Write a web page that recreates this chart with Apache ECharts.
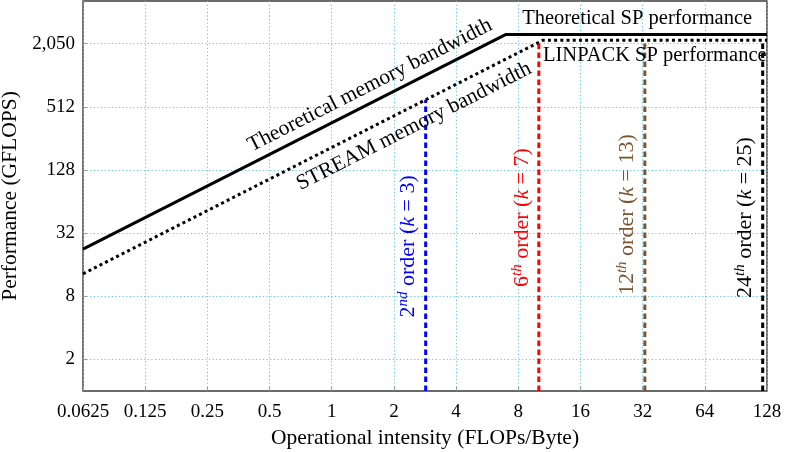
<!DOCTYPE html>
<html>
<head>
<meta charset="utf-8">
<script src="https://cdn.jsdelivr.net/npm/echarts@6/dist/echarts.min.js"></script>
<style>
  html, body { margin: 0; padding: 0; background: #fff; }
  #chart { width: 788px; height: 452px; }
</style>
</head>
<body>
<div id="chart"></div>
<script>
// 坐标轴刻度
const xTicks = [0.0625, 0.125, 0.25, 0.5, 1, 2, 4, 8, 16, 32, 64, 128];
const yTicks = [2, 8, 32, 128, 512, 2048];
const yTickLabels = ['2', '8', '32', '128', '512', '2,050'];

// 理论 roofline (带宽 + 峰值)
const theoreticalX = [0.0625, 6.94, 128];
const theoreticalY = [22.5, 2500, 2500];
// STREAM / LINPACK roofline
const streamX = [0.0625, 10.5, 128];
const streamY = [13.1, 2200, 2200];

// 各阶差分格式的运算强度及其顶端性能
const orderNames = ['2nd', '6th', '12th', '24th'];
const orderK = [3, 7, 13, 25];
const orderX = [2.85, 10.06, 32.8, 122];
const orderTop = [598, 2113, 2200, 2200];
const orderColors = ['#0000ff', '#ff0000', '#7a5530', '#000000'];

const serif = 'Liberation Serif';
const slope = Math.atan(31.57 / 62.18) * 180 / Math.PI;

function pairs(xs, ys) {
  return xs.map((x, i) => [x, ys[i]]);
}

const richBase = function (color, size) {
  const base = { fontFamily: serif, color: color, opacity: 1, lineHeight: 25, textBorderWidth: 0 };
  return {
    n: Object.assign({}, base, { fontSize: size }),
    it: Object.assign({}, base, { fontSize: size, fontStyle: 'italic' }),
    sup: Object.assign({}, base, { fontSize: Math.round(size * 0.66), fontStyle: 'italic', verticalAlign: 'top' })
  };
};

const series = [];
//理论带宽线
series.push({
  name: 'Theoretical', type: 'line', symbol: 'none', animation: false,
  data: pairs(theoreticalX, theoreticalY),
  lineStyle: { color: '#000', width: 3, type: 'solid' }, z: 5
});
//STREAM 带宽线
series.push({
  name: 'STREAM', type: 'line', symbol: 'none', animation: false,
  data: pairs(streamX, streamY),
  lineStyle: { color: '#000', width: 3, type: [3, 3.2], cap: 'butt' }, z: 5
});
//竖直虚线
orderX.forEach((x, i) => {
  series.push({
    name: orderNames[i], type: 'line', symbol: 'none', animation: false,
    data: [[x, 1], [x, orderTop[i]]],
    lineStyle: { color: orderColors[i], width: 3, type: [5.5, 3.5] }, z: 4
  });
});

//文字标注 (位置用数据坐标)
const notes = [
  { value: [1.533, 820], text: 'Theoretical memory bandwidth', rotate: slope, color: '#000', align: 'center', size: 21.5 },
  { value: [2.50, 333], text: 'STREAM memory bandwidth', rotate: slope, color: '#000', align: 'center', size: 21.5 },
  { value: [30.1, 3570], text: 'Theoretical SP performance', rotate: 0, color: '#000', align: 'center', size: 20.5 },
  { value: [10.54, 1585], text: 'LINPACK SP performance', rotate: 0, color: '#000', align: 'left', size: 20.5 }
];
const orderNotePos = [[2.34, 23.9], [8.34, 45], [26.9, 48], [100.2, 45]];
orderNames.forEach((nm, i) => {
  const num = nm.match(/\d+/)[0];
  const suf = nm.replace(num, '');
  notes.push({
    value: orderNotePos[i],
    text: '{n|' + num + '}{sup|' + suf + '}{n| order (}{it|k}{n| = ' + orderK[i] + ')}',
    rotate: 90, color: orderColors[i], align: 'center', size: 22
  });
});

series.push({
  name: 'notes', type: 'scatter', symbolSize: 0, animation: false, silent: true, z: 6,
  data: notes.map(nt => ({
    value: nt.value,
    label: {
      show: true,
      position: nt.align === 'left' ? 'right' : 'inside',
      distance: 0,
      formatter: nt.text.indexOf('{') === 0 ? nt.text : '{n|' + nt.text + '}',
      rotate: nt.rotate,
      align: nt.align,
      verticalAlign: 'middle',
      color: nt.color,
      opacity: 1,
      textBorderWidth: 0,
      rich: richBase(nt.color, nt.size)
    }
  }))
});

const chart = echarts.init(document.getElementById('chart'), null, { renderer: 'canvas' });
chart.setOption({
  animation: false,
  backgroundColor: '#fff',
  grid: { left: 83, right: 21, top: 1, bottom: 61, outerBoundsMode: 'none', containLabel: false,
    show: true, borderColor: '#3a3a3a', borderWidth: 1.4, backgroundColor: 'transparent' },
  xAxis: {
    type: 'log', logBase: 2, min: 0.0625, max: 128,
    name: 'Operational intensity (FLOPs/Byte)', nameLocation: 'middle', nameGap: 31,
    nameTextStyle: { fontFamily: serif, fontSize: 21.5, color: '#000' },
    axisLine: { show: false },
    axisTick: { show: true, inside: true, length: 4, lineStyle: { color: '#999' }, customValues: xTicks },
    axisLabel: { fontFamily: serif, fontSize: 19, color: '#000', margin: 12, customValues: xTicks,
      formatter: v => String(v) },
    splitLine: { show: true, lineStyle: { color: '#5cc8f2', width: 1, type: [1.2, 2.4] } },
    minorTick: { show: false }
  },
  yAxis: {
    type: 'log', logBase: 2, min: 1, max: 5220,
    name: 'Performance (GFLOPS)', nameLocation: 'middle', nameGap: 53, nameRotate: 90,
    nameTextStyle: { fontFamily: serif, fontSize: 21.5, color: '#000' },
    axisLine: { show: false },
    axisTick: { show: true, inside: true, length: 4, lineStyle: { color: '#999' }, customValues: yTicks },
    axisLabel: { fontFamily: serif, fontSize: 19, color: '#000', margin: 8, customValues: yTicks,
      formatter: v => yTickLabels[yTicks.indexOf(Math.round(v))] || '' },
    splitLine: { show: true, lineStyle: { color: '#5cc8f2', width: 1, type: [1.2, 2.4] } }
  },
  series: series
});
</script>
</body>
</html>
